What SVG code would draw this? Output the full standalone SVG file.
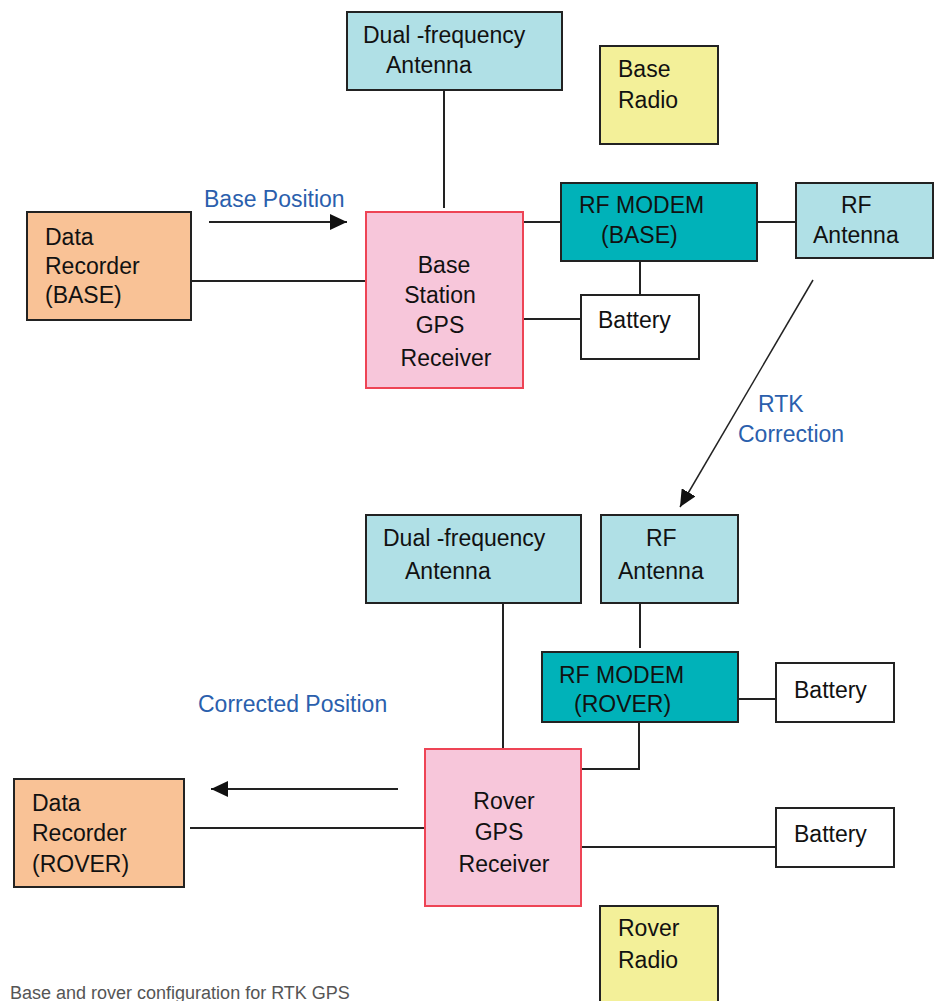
<svg xmlns="http://www.w3.org/2000/svg" width="941" height="1001" viewBox="0 0 941 1001">
<style>
text{font-family:"Liberation Sans",Arial,sans-serif;font-size:23px;fill:#111}
.lbl{fill:#2b5fad}
.cap{font-size:18px;fill:#555}
.box{stroke:#222;stroke-width:2}
.ant{fill:#b0e0e6}
.modem{fill:#00b2b9}
.gps{fill:#f7c6da;stroke:#ee4455;stroke-width:2}
.rec{fill:#f9c296}
.radio{fill:#f3f099}
.bat{fill:#fff}
.c{fill:none;stroke:#222;stroke-width:2}
.m{text-anchor:middle}
</style>
<defs>
<marker id="ah" markerUnits="userSpaceOnUse" markerWidth="18" markerHeight="16" refX="17" refY="8" orient="auto">
<path d="M0,0 L17,8 L0,16 z" fill="#111"/>
</marker>
</defs>
<g id="connectors">
<line class="c" x1="444" y1="90" x2="444" y2="208"/>
<line class="c" x1="191" y1="281" x2="366" y2="281"/>
<line class="c" x1="209" y1="222" x2="347" y2="222" marker-end="url(#ah)"/>
<line class="c" x1="523" y1="222" x2="561" y2="222"/>
<line class="c" x1="757" y1="222" x2="796" y2="222"/>
<line class="c" x1="640" y1="261" x2="640" y2="295"/>
<line class="c" x1="523" y1="319" x2="581" y2="319"/>
<line class="c" x1="813" y1="280" x2="680" y2="507" marker-end="url(#ah)" style="stroke-width:1.5"/>
<line class="c" x1="503" y1="603" x2="503" y2="749"/>
<line class="c" x1="640" y1="603" x2="640" y2="648"/>
<line class="c" x1="738" y1="699" x2="776" y2="699"/>
<polyline class="c" points="639,722 639,769 581,769"/>
<line class="c" x1="581" y1="847" x2="776" y2="847"/>
<line class="c" x1="190" y1="828" x2="425" y2="828"/>
<line class="c" x1="398" y1="789" x2="211" y2="789" marker-end="url(#ah)"/>
</g>
<g id="base-dual-antenna">
<rect class="box ant" x="347" y="12" width="215" height="78"/>
<text x="363" y="43">Dual -frequency</text>
<text x="386" y="73">Antenna</text>
</g>
<g id="base-radio">
<rect class="box radio" x="600" y="46" width="118" height="98"/>
<text x="618" y="77">Base</text>
<text x="618" y="108">Radio</text>
</g>
<g id="data-recorder-base">
<rect class="box rec" x="27" y="212" width="164" height="108"/>
<text x="45" y="245">Data</text>
<text x="45" y="274">Recorder</text>
<text x="45" y="303">(BASE)</text>
</g>
<g id="base-gps">
<rect class="gps" x="366" y="212" width="157" height="176"/>
<text class="m" x="444" y="273">Base</text>
<text class="m" x="440" y="303">Station</text>
<text class="m" x="440" y="333">GPS</text>
<text class="m" x="446" y="366">Receiver</text>
</g>
<g id="rf-modem-base">
<rect class="box modem" x="561" y="183" width="196" height="78"/>
<text x="579" y="213">RF MODEM</text>
<text x="601" y="243">(BASE)</text>
</g>
<g id="rf-antenna-base">
<rect class="box ant" x="796" y="183" width="137" height="75"/>
<text x="841" y="213">RF</text>
<text x="813" y="243">Antenna</text>
</g>
<g id="battery-base">
<rect class="box bat" x="581" y="295" width="118" height="64"/>
<text x="598" y="328">Battery</text>
</g>
<g id="label-base-position"><text class="lbl" x="204" y="207">Base Position</text></g>
<g id="label-rtk"><text class="lbl" x="758" y="412">RTK</text><text class="lbl" x="738" y="442">Correction</text></g>
<g id="label-corrected"><text class="lbl" x="198" y="712">Corrected Position</text></g>
<g id="rover-dual-antenna">
<rect class="box ant" x="366" y="515" width="215" height="88"/>
<text x="383" y="546">Dual -frequency</text>
<text x="405" y="579">Antenna</text>
</g>
<g id="rf-antenna-rover">
<rect class="box ant" x="601" y="515" width="137" height="88"/>
<text x="646" y="546">RF</text>
<text x="618" y="579">Antenna</text>
</g>
<g id="rf-modem-rover">
<rect class="box modem" x="542" y="652" width="196" height="70"/>
<text x="559" y="683">RF MODEM</text>
<text x="574" y="712">(ROVER)</text>
</g>
<g id="battery-rover-1">
<rect class="box bat" x="776" y="663" width="118" height="59"/>
<text x="794" y="698">Battery</text>
</g>
<g id="rover-gps">
<rect class="gps" x="425" y="749" width="156" height="157"/>
<text class="m" x="504" y="809">Rover</text>
<text class="m" x="499" y="840">GPS</text>
<text class="m" x="504" y="872">Receiver</text>
</g>
<g id="battery-rover-2">
<rect class="box bat" x="776" y="808" width="118" height="59"/>
<text x="794" y="842">Battery</text>
</g>
<g id="data-recorder-rover">
<rect class="box rec" x="14" y="779" width="170" height="108"/>
<text x="32" y="811">Data</text>
<text x="32" y="841">Recorder</text>
<text x="32" y="872">(ROVER)</text>
</g>
<g id="rover-radio">
<rect class="box radio" x="600" y="906" width="118" height="100"/>
<text x="618" y="936">Rover</text>
<text x="618" y="968">Radio</text>
</g>
<text class="cap" x="10" y="999">Base and rover configuration for RTK GPS</text>
</svg>
